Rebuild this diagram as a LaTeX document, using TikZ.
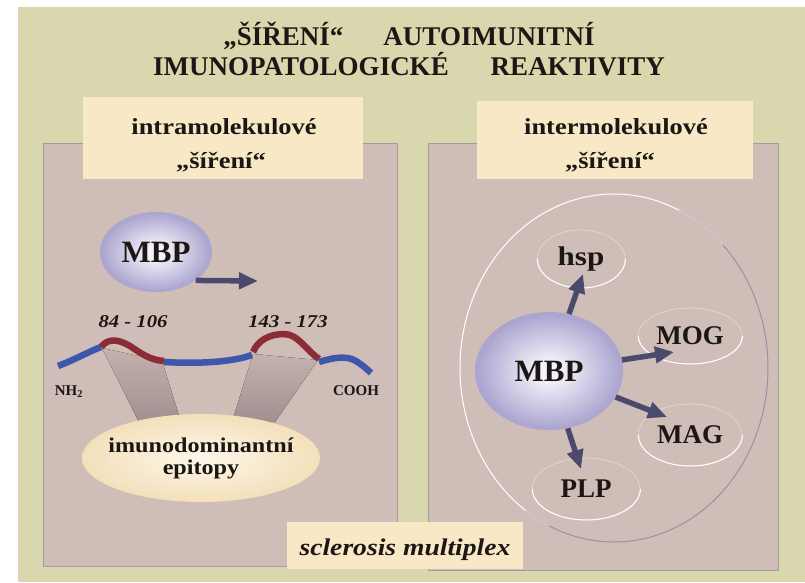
\documentclass[tikz,border=0pt]{standalone}
\usepackage{fontspec}
\setmainfont{Liberation Serif}
\newfontfamily\widefont[FakeStretch=1.15]{Liberation Serif}
\usetikzlibrary{arrows.meta,shapes.geometric}
\definecolor{slide}{HTML}{D9D7AE}
\definecolor{panel}{HTML}{CFBEB8}
\definecolor{panelrim}{HTML}{A89AA0}
\definecolor{cream}{HTML}{F8E8C5}
\definecolor{ink}{HTML}{1C1714}
\definecolor{arrowink}{HTML}{4B496C}
\definecolor{chainblue}{HTML}{3D57AA}
\definecolor{chainred}{HTML}{8C2C36}
\definecolor{beam}{HTML}{A38E90}
\definecolor{mbpout}{HTML}{7D75AA}
\definecolor{mbpmid}{HTML}{ACA6D0}
\definecolor{mbpin}{HTML}{F3F1FA}
\definecolor{ringgrey}{HTML}{9B8FA3}
\pgfdeclareradialshading{mbpglow}{\pgfpoint{0bp}{0bp}}{%
  color(0bp)=(mbpin); color(4bp)=(mbpin); color(24bp)=(mbpmid); color(50bp)=(mbpout)}
\tikzset{
  every node/.style={text=ink},
  titletext/.style={font=\bfseries\fontsize{27}{30}\selectfont, anchor=base},
  headtext/.style={font=\widefont\bfseries\fontsize{23}{34}\selectfont, anchor=base},
  mbpball/.style={ellipse, inner sep=0pt, shade, shading=mbpglow,
    font=\bfseries\fontsize{31}{31}\selectfont},
  ringnode/.style={ellipse, inner sep=0pt, draw=white!35!panel, line width=0.8pt,
    font=\bfseries\fontsize{27}{27}\selectfont},
  spreadarrow/.style={draw=arrowink, line width=5.5pt,
    -{Triangle[length=19pt,width=16pt]}},
  peptide/.style={line width=6.5pt, line cap=butt},
  beamshade/.style={top color=panel!75!beam, bottom color=beam},
}

\begin{document}
\begin{tikzpicture}[x=1pt, y=-1pt]
\useasboundingbox (0,0) rectangle (805,582);
% slide background
\fill[slide] (18,7) rectangle (805,582);
% two panels with their heading cards
\filldraw[fill=panel, draw=panelrim, line width=0.6pt] (43,143) rectangle (397,566);
\filldraw[fill=panel, draw=panelrim, line width=0.6pt] (428,143) rectangle (778,570);
\fill[cream] (83,97) rectangle (363,179);
\fill[cream] (477,101) rectangle (753,179);
% title
\node[titletext] (title1) at (409,45) {„ŠÍŘENÍ“\hspace{40pt}AUTOIMUNITNÍ};
\node[titletext] (title2) at (409,75) {IMUNOPATOLOGICKÉ\hspace{42pt}REAKTIVITY};
\node[headtext] (intra1) at (224,134) {intramolekulové};
\node[headtext] (intra2) at (221,168) {„šíření“};
\node[headtext] (inter1) at (616,134) {intermolekulové};
\node[headtext] (inter2) at (610,168) {„šíření“};

% left panel: epitopes on the MBP chain
\fill[beamshade] (102,348) -- (162,361) -- (181,422) -- (139,422) -- cycle;
\fill[beamshade] (253,354) -- (318,360) -- (275,422) -- (232,422) -- cycle;
\draw[peptide, chainblue] (58,366) .. controls (74,360) and (88,352) .. (101,347);
\draw[peptide, chainred] (101,347) .. controls (108,338) and (118,339) .. (130,346)
  .. controls (142,354) and (150,360) .. (164,361);
\draw[peptide, chainblue] (164,362) .. controls (200,364) and (232,362) .. (252,355);
\draw[peptide, chainred] (253,352) .. controls (258,340) and (270,334) .. (284,334)
  .. controls (298,334) and (306,350) .. (319,359);
\draw[peptide, chainblue] (319,362) .. controls (332,358) and (346,355) .. (356,361)
  .. controls (362,365) and (366,368) .. (371,373);
\node[font=\bfseries\fontsize{15}{15}\selectfont, anchor=base] (nterm) at (69,395) {NH\textsubscript{2}};
\node[font=\bfseries\fontsize{15}{15}\selectfont, anchor=base] (cterm) at (356,395) {COOH};
\node[font=\widefont\bfseries\itshape\fontsize{18}{18}\selectfont, anchor=base] (epiA) at (133,327) {84 - 106};
\node[font=\widefont\bfseries\itshape\fontsize{18}{18}\selectfont, anchor=base] (epiB) at (288,327) {143 - 173};
\node[ellipse, inner sep=0pt, inner xsep=-14pt, minimum width=238pt, minimum height=88pt,
  inner color=white!65!cream, outer color=cream!92!brown, align=center,
  font=\widefont\bfseries\fontsize{21}{22}\selectfont] (epitopes) at (201,458) {imunodominantní\\epitopy};
\node[mbpball, minimum width=112pt, minimum height=80pt] (mbpL) at (156,252) {MBP};
\coordinate (spreadTip) at (258,281);
\draw[spreadarrow] (mbpL.south east) -- (spreadTip);

% right panel: spreading to other myelin antigens
\begin{scope}[shift={(614,368)}]
  \foreach \a/\b/\c in {115/125/white!50!ringgrey, 125/295/white,
                        295/315/white!50!ringgrey, 315/475/ringgrey}
    \draw[\c, line width=1pt] (\a:154 and 174)
      arc[start angle=\a, end angle=\b, x radius=154, y radius=174];
\end{scope}
\node[ringnode, minimum width=88pt, minimum height=58pt,
  font=\widefont\bfseries\fontsize{27}{27}\selectfont] (hsp) at (581,259) {hsp};
\node[ringnode, minimum width=104pt, minimum height=56pt] (mog) at (690,336) {MOG};
\node[ringnode, minimum width=104pt, minimum height=62pt] (mag) at (690,435) {MAG};
\node[ringnode, minimum width=108pt, minimum height=62pt] (plp) at (586,489) {PLP};
\foreach \r/\a/\b in {hsp/44/29, mog/52/28, mag/52/31, plp/54/31}
  \draw[white, line width=1pt] (\r.east)
    arc[start angle=0, end angle=180, x radius=\a, y radius=\b];
\node[mbpball, minimum width=148pt, minimum height=118pt] (mbpR) at (549,371) {MBP};
\coordinate (toHsp) at (583,274);
\coordinate (toMog) at (674,352);
\coordinate (toMag) at (667,417);
\coordinate (toPlp) at (581,469);
\foreach \t in {toHsp,toMog,toMag,toPlp}
  \draw[spreadarrow] (mbpR) -- (\t);

% disease label
\fill[cream] (287,522) rectangle (523,569);
\node[font=\widefont\bfseries\itshape\fontsize{24}{24}\selectfont, anchor=base] (ms) at (405,555) {sclerosis multiplex};
\end{tikzpicture}
\end{document}
